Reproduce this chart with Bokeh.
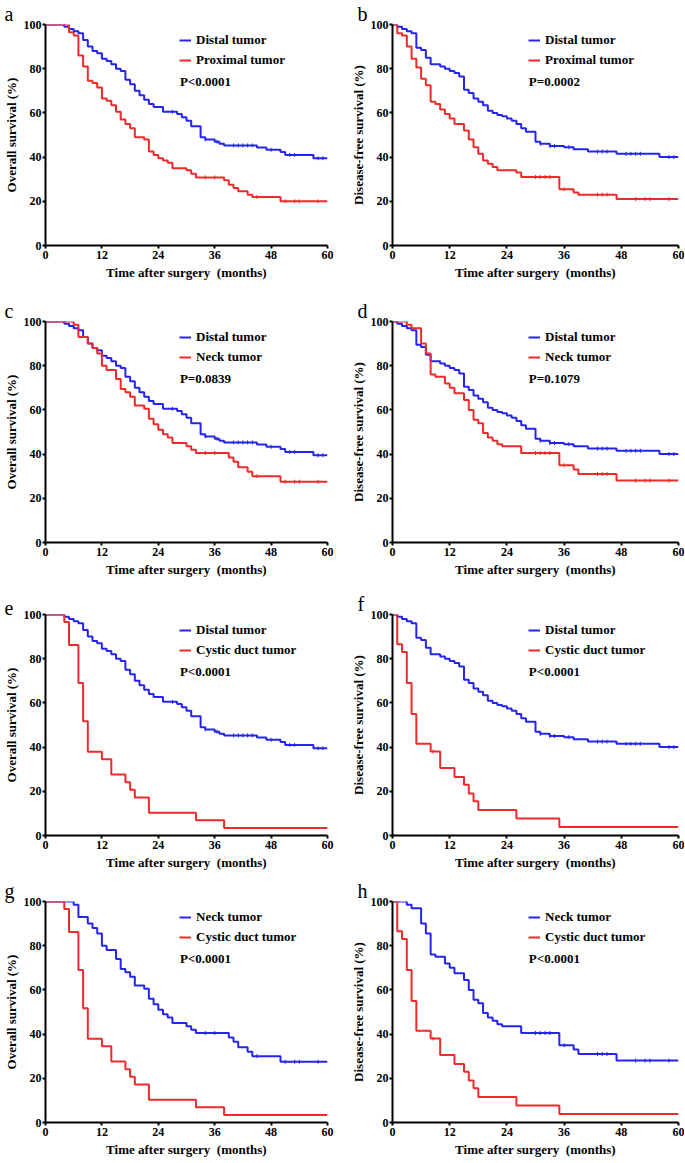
import math
from bokeh.plotting import figure
from bokeh.layouts import column, row
from bokeh.models import Range1d, FixedTicker, Legend, LegendItem, Label
from bokeh.embed import file_html
from bokeh.resources import INLINE

# ---------------- data (months, survival %) ----------------
distal_os_t = [0, 4, 5, 6, 7, 8, 9, 10, 11, 12, 13, 14, 15, 16, 17, 18, 19, 20, 21, 22,
               23, 25, 28, 29, 30, 31, 33, 34, 36, 37, 38, 45, 47, 50, 51, 57]
distal_os_s = [100, 99, 98, 97, 96, 93, 90, 88, 87, 84.5, 83.5, 82, 80, 79, 75, 73, 70, 68, 66, 64,
               62.7, 60.5, 59.5, 58, 56.5, 54, 49, 48, 47, 46, 45.3, 44.3, 43.3, 42.3, 41, 39.5]
distal_os_c = [27, 34, 36.5, 40, 41, 42, 43, 44, 48, 52, 53, 58, 59]

proximal_os_t = [0, 5, 6, 7, 8, 9, 10, 11, 12, 13, 14, 15, 16, 17, 18, 19, 21, 22, 23, 24,
                 25, 26, 27, 30, 31, 32, 38, 39, 40, 41, 43, 44, 50]
proximal_os_s = [100, 96.5, 95, 86, 81, 74.5, 73.5, 71.5, 66.5, 65.5, 63.5, 60.5, 57, 55, 53, 49, 48,
                 42.5, 41, 39.5, 38.5, 37.5, 35, 34, 32.5, 30.8, 29.5, 27.5, 26, 24.5, 23, 22, 20]
proximal_os_c = [34, 36, 45, 51, 53, 54, 58]

neck_os_t = [0, 6, 7, 9, 10, 11, 12, 13, 15, 16, 17, 18, 19, 21, 22, 23, 24, 25, 26, 27,
             30, 31, 32, 39, 40, 41, 43, 44, 50]
neck_os_s = [100, 98.5, 93, 90, 88, 85.5, 80, 78, 74, 69.5, 68, 66, 62, 60.5, 56, 53.5, 51, 49, 47.5, 45,
             43.5, 42, 40.5, 38.5, 36.5, 34, 32, 30, 27.5]
neck_os_c = [34, 36, 45, 51, 53, 54, 58]

cystic_os_t = [0, 4, 5, 7, 8, 9, 12, 14, 17, 18, 19, 22, 32, 38]
cystic_os_s = [100, 96.6, 86.2, 69.0, 51.7, 37.9, 34.5, 27.6, 24.1, 20.7, 17.2, 10.3, 6.9, 3.4]
cystic_os_c = []

distal_dfs_t = [0, 1, 2, 3, 4, 5, 6, 7, 8, 10, 11, 12, 13, 14, 15, 16, 17, 18, 19, 20,
                21, 22, 23, 24, 25, 26, 27, 28, 30, 31, 33, 36, 38, 41, 47, 56]
distal_dfs_s = [100, 99, 98, 97, 96, 89.5, 88.5, 85, 82, 81, 80, 79, 78, 76.5, 70.5, 69, 66.5, 65, 63.5, 61,
                60, 59, 58.5, 57.5, 56.5, 55, 53, 51.5, 47, 46, 45, 44.5, 43.5, 42.5, 41.5, 40]
distal_dfs_c = [31, 33, 34, 37, 43, 44, 45, 49, 50, 51, 52, 58, 59]

proximal_dfs_t = [0, 1, 2, 3, 4, 5, 6, 7, 8, 9, 10, 11, 12, 13, 15, 16, 17, 18, 19, 20,
                  21, 22, 26, 27, 35, 38, 39, 47]
proximal_dfs_s = [100, 96, 95, 90, 84.5, 80.5, 75.5, 72.5, 65, 64, 61.5, 59.5, 57.5, 55, 52, 48, 44.5,
                  41.5, 38.5, 37, 35.5, 34, 33, 31, 25.5, 24, 23, 21]
proximal_dfs_c = [30, 31, 32, 33, 36, 43, 44, 45, 51, 53, 54, 58]

neck_dfs_t = [0, 3, 4, 6, 7, 8, 9, 11, 12, 13, 15, 16, 17, 18, 19, 20, 21, 22, 23, 27, 35, 38, 39, 47]
neck_dfs_s = [100, 98.5, 97, 90, 85.5, 76, 75, 72, 70, 67.5, 64.5, 60, 55.5, 54, 49.5, 47.5, 46, 44.5,
              43.5, 40.5, 35, 33, 31, 28]
neck_dfs_c = [30, 31, 32, 33, 36, 43, 44, 45, 51, 53, 54, 58]

cystic_dfs_t = [0, 1, 2, 3, 4, 5, 8, 10, 13, 15, 16, 17, 18, 26, 35]
cystic_dfs_s = [100, 86.5, 83, 69, 55, 41.5, 38, 30.5, 26.5, 23, 19, 15.5, 11.5, 7.7, 3.8]
cystic_dfs_c = [8.5]

x_ticks = [0, 12, 24, 36, 48, 60]
y_ticks = [0, 20, 40, 60, 80, 100]
x_title = "Time after surgery\u00a0 (months)"
os_title = "Overall survival (%)"
dfs_title = "Disease-free survival (%)"

curves = {
    "distal_os": (distal_os_t, distal_os_s, distal_os_c, "Distal tumor"),
    "proximal_os": (proximal_os_t, proximal_os_s, proximal_os_c, "Proximal tumor"),
    "neck_os": (neck_os_t, neck_os_s, neck_os_c, "Neck tumor"),
    "cystic_os": (cystic_os_t, cystic_os_s, cystic_os_c, "Cystic duct tumor"),
    "distal_dfs": (distal_dfs_t, distal_dfs_s, distal_dfs_c, "Distal tumor"),
    "proximal_dfs": (proximal_dfs_t, proximal_dfs_s, proximal_dfs_c, "Proximal tumor"),
    "neck_dfs": (neck_dfs_t, neck_dfs_s, neck_dfs_c, "Neck tumor"),
    "cystic_dfs": (cystic_dfs_t, cystic_dfs_s, cystic_dfs_c, "Cystic duct tumor"),
}

panel_letters = ["a", "b", "c", "d", "e", "f", "g", "h"]
panel_ylabels = [os_title, dfs_title] * 4
panel_blue = ["distal_os", "distal_dfs", "distal_os", "distal_dfs", "distal_os", "distal_dfs", "neck_os", "neck_dfs"]
panel_red = ["proximal_os", "proximal_dfs", "neck_os", "neck_dfs", "cystic_os", "cystic_dfs", "cystic_os", "cystic_dfs"]
panel_p = ["P<0.0001", "P=0.0002", "P=0.0839", "P=0.1079", "P<0.0001", "P<0.0001", "P<0.0001", "P<0.0001"]

# ---------------- layout / style ----------------
BLUE = "#2424EE"
RED = "#EE2A2A"
FONT = "Liberation Serif"
FH = 221
col_fw = [282, 286]
col_left = [44, 44]
col_right = [20, 6]
col_letter_offset = [-41, -35]
row_top = [22, 22, 22, 22]
row_bottom = [52, 48, 42, 36]


def surv_at(ts, ss, t):
    v = ss[0]
    for ti, si in zip(ts, ss):
        if ti <= t:
            v = si
    return v


def make_panel(i):
    r, c = divmod(i, 2)
    p = figure(frame_width=col_fw[c], frame_height=FH,
               min_border_top=row_top[r], min_border_bottom=row_bottom[r],
               min_border_left=col_left[c], min_border_right=col_right[c],
               x_range=Range1d(0, 60), y_range=Range1d(0, 100),
               output_backend="svg", toolbar_location=None)
    p.outline_line_color = None
    p.xgrid.visible = False
    p.ygrid.visible = False
    p.background_fill_color = "white"
    p.border_fill_color = "white"

    p.title.text = panel_letters[i]
    p.title.align = "left"
    p.title.offset = col_letter_offset[c]
    p.title.standoff = 0
    p.title.text_font = FONT
    p.title.text_font_style = "normal"
    p.title.text_font_size = "20px"
    p.title.text_color = "black"

    for ax, ticks, title in ((p.xaxis[0], x_ticks, x_title), (p.yaxis[0], y_ticks, panel_ylabels[i])):
        ax.ticker = FixedTicker(ticks=ticks)
        ax.axis_label = title
        ax.axis_line_width = 2
        ax.axis_line_color = "black"
        ax.major_tick_line_width = 2
        ax.major_tick_line_color = "black"
        ax.major_tick_out = 3
        ax.major_tick_in = 0
        ax.minor_tick_line_color = None
        ax.major_label_text_font = FONT
        ax.major_label_text_font_style = "bold"
        ax.major_label_text_font_size = "12px"
        ax.major_label_text_color = "black"
        ax.axis_label_text_font = FONT
        ax.axis_label_text_font_style = "bold"
        ax.axis_label_text_font_size = "13px"
        ax.axis_label_text_color = "black"
    p.xaxis[0].major_label_standoff = 2
    p.xaxis[0].axis_label_standoff = 3
    p.yaxis[0].major_label_standoff = 1
    p.yaxis[0].axis_label_standoff = 2

    items = []
    for key, color in ((panel_blue[i], BLUE), (panel_red[i], RED)):
        ts, ss, cs, label = curves[key]
        xs = list(ts) + [60]
        ys = list(ss) + [ss[-1]]
        st = p.step(xs, ys, mode="after", line_color=color, line_width=2)
        cy = [surv_at(ts, ss, t) for t in cs]
        sc = p.scatter(list(cs), cy, marker="dash", angle=math.pi / 2, size=4,
                       line_color=color, line_width=1)
        items.append(LegendItem(label=label, renderers=[st, sc]))

    fw = col_fw[c]
    legend = Legend(items=items, location=(int(fw * 28.6 / 60), FH - 12 - 32),
                    glyph_width=12, glyph_height=14, label_height=14, spacing=4,
                    label_standoff=5, padding=0, margin=0,
                    border_line_color=None, background_fill_alpha=0,
                    label_text_font=FONT, label_text_font_style="bold",
                    label_text_font_size="13px", label_text_color="black")
    p.add_layout(legend)

    p.add_layout(Label(x=28.6, y=74, text=panel_p[i], text_font=FONT, text_font_style="bold",
                       text_font_size="13px", text_baseline="middle", text_color="black"))
    return p


panels = [make_panel(i) for i in range(8)]
layout = column(*[row(panels[2 * k], panels[2 * k + 1]) for k in range(4)])

open("out.html", "w").write(file_html(layout, INLINE))
